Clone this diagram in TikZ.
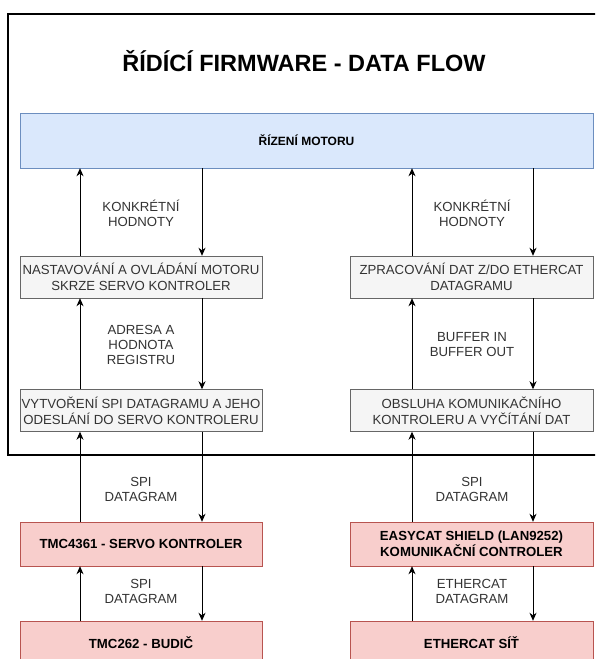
\documentclass[tikz,border=0pt]{standalone}
\usepackage{fontspec}
\setmainfont{Liberation Sans}
\usetikzlibrary{arrows.meta,positioning}
\definecolor{motorFill}{HTML}{DAE8FC}
\definecolor{motorLine}{HTML}{6C8EBF}
\definecolor{fwFill}{HTML}{F5F5F5}
\definecolor{fwLine}{HTML}{666666}
\definecolor{fwText}{HTML}{333333}
\definecolor{hwFill}{HTML}{F8CECC}
\definecolor{hwLine}{HTML}{B85450}

\begin{document}
\begin{tikzpicture}[x=1pt, y=-1pt,
  fwbox/.style={draw=fwLine, fill=fwFill, text=fwText, minimum width=242pt, minimum height=42pt,
    align=center, inner sep=0pt, font=\fontsize{13.2}{15.8}\selectfont},
  hwbox/.style={draw=hwLine, fill=hwFill, minimum width=242pt, minimum height=44pt,
    align=center, inner sep=0pt, font=\bfseries\fontsize{13.2}{15.8}\selectfont},
  flow/.style={-{Stealth[length=8pt,width=7pt,inset=2.5pt]}, line width=1pt},
  lbl/.style={text=fwText, align=center, inner sep=0pt, font=\fontsize{13.2}{15}\selectfont}]
  \clip (0,0) rectangle (595,659);
  % firmware frame (runs off the right edge)
  \draw[line width=1.4pt] (8,14) rectangle (612,455);
  \node[font=\bfseries\fontsize{23.5}{28}\selectfont] (title) at (304,61) {ŘÍDÍCÍ FIRMWARE - DATA FLOW};
  % columns of the connectors
  \coordinate (upL) at (80,0);
  \coordinate (dnL) at (202,0);
  \coordinate (upR) at (412,0);
  \coordinate (dnR) at (533,0);
  % boxes
  \node[draw=motorLine, fill=motorFill, minimum width=573pt, minimum height=55pt,
    font=\bfseries\fontsize{12}{14}\selectfont] (motor) at (306.5,140.5) {ŘÍZENÍ MOTORU};
  \node[fwbox] (setMotor) at (141,277) {NASTAVOVÁNÍ A OVLÁDÁNÍ MOTORU\\SKRZE SERVO KONTROLER};
  \node[fwbox] (spiSend) at (141,410.5) {VYTVOŘENÍ SPI DATAGRAMU A JEHO\\ODESLÁNÍ DO SERVO KONTROLERU};
  \node[fwbox, minimum width=243pt] (ecData) at (471.5,277) {ZPRACOVÁNÍ DAT Z/DO ETHERCAT\\DATAGRAMU};
  \node[fwbox, minimum width=243pt] (ecComm) at (471.5,410.5) {OBSLUHA KOMUNIKAČNÍHO\\KONTROLERU A VYČÍTÁNÍ DAT};
  \node[hwbox] (servo) at (141,544) {TMC4361 - SERVO KONTROLER};
  \node[hwbox] (driver) at (141,643) {TMC262 - BUDIČ};
  \node[hwbox, minimum width=243pt] (easycat) at (471.5,544) {EASYCAT SHIELD (LAN9252)\\KOMUNIKAČNÍ CONTROLER};
  \node[hwbox, minimum width=243pt] (network) at (471.5,643) {ETHERCAT SÍŤ};
  % left column
  \draw[flow] (setMotor.north -| upL) -- (motor.south -| upL);
  \draw[flow] (motor.south -| dnL) -- (setMotor.north -| dnL);
  \draw[flow] (spiSend.north -| upL) -- (setMotor.south -| upL);
  \draw[flow] (setMotor.south -| dnL) -- (spiSend.north -| dnL);
  \draw[flow] (servo.north -| upL) -- (spiSend.south -| upL);
  \draw[flow] (spiSend.south -| dnL) -- (servo.north -| dnL);
  \draw[flow] (driver.north -| upL) -- (servo.south -| upL);
  \draw[flow] (servo.south -| dnL) -- (driver.north -| dnL);
  % right column
  \draw[flow] (ecData.north -| upR) -- (motor.south -| upR);
  \draw[flow] (motor.south -| dnR) -- (ecData.north -| dnR);
  \draw[flow] (ecComm.north -| upR) -- (ecData.south -| upR);
  \draw[flow] (ecData.south -| dnR) -- (ecComm.north -| dnR);
  \draw[flow] (easycat.north -| upR) -- (ecComm.south -| upR);
  \draw[flow] (ecComm.south -| dnR) -- (easycat.north -| dnR);
  \draw[flow] (network.north -| upR) -- (easycat.south -| upR);
  \draw[flow] (easycat.south -| dnR) -- (network.north -| dnR);
  % labels
  \node[lbl] (valL) at (141,213) {KONKRÉTNÍ\\HODNOTY};
  \node[lbl] (valR) at (472,213) {KONKRÉTNÍ\\HODNOTY};
  \node[lbl] (regL) at (141,345) {ADRESA A\\HODNOTA\\REGISTRU};
  \node[lbl] (bufR) at (472,345) {BUFFER IN\\BUFFER OUT};
  \node[lbl] (spiL) at (141,489) {SPI\\DATAGRAM};
  \node[lbl] (spiR) at (472,489) {SPI\\DATAGRAM};
  \node[lbl] (spiL2) at (141,591) {SPI\\DATAGRAM};
  \node[lbl] (ecatR) at (472,591) {ETHERCAT\\DATAGRAM};
\end{tikzpicture}
\end{document}
